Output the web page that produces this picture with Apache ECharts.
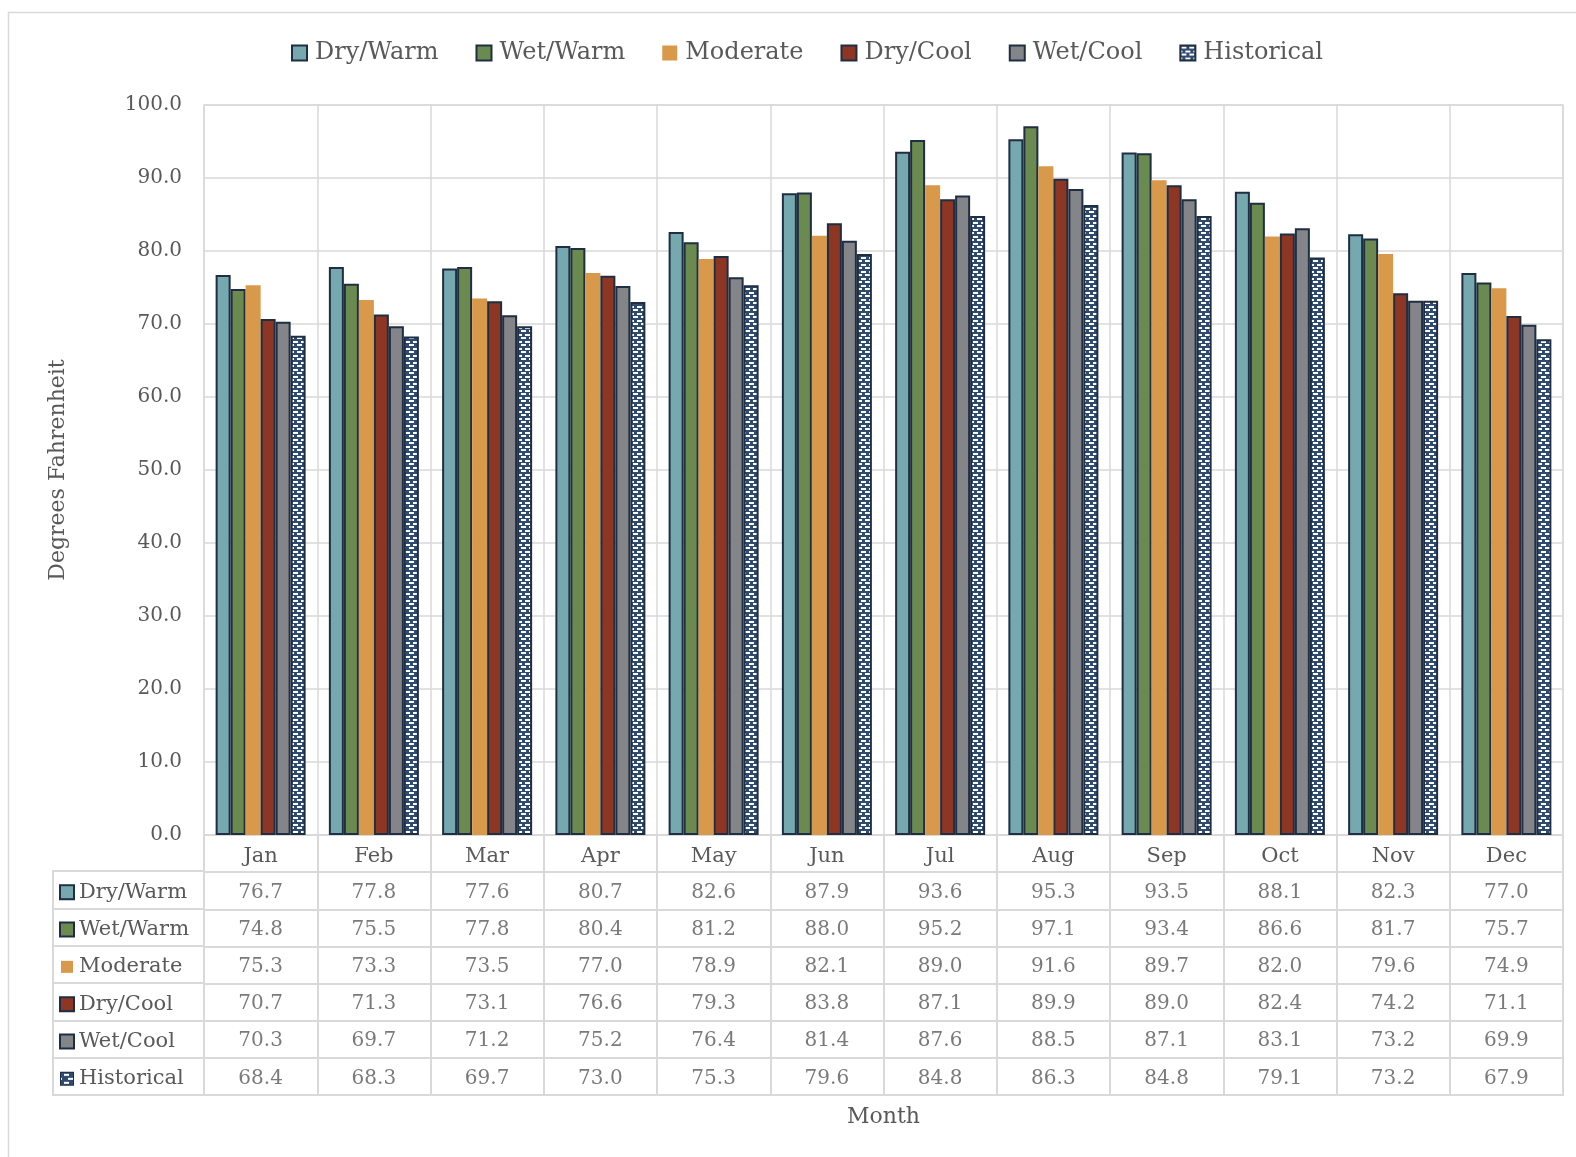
<!DOCTYPE html>
<html>
<head>
<meta charset="utf-8">
<title>Monthly Temperature by Scenario</title>
<script src="https://cdn.jsdelivr.net/npm/echarts@6/dist/echarts.min.js"></script>
<style>
  html, body { margin: 0; padding: 0; background: #ffffff; }
  #chart { width: 1576px; height: 1157px; }
</style>
</head>
<body>
<div id="chart"></div>
<script>
// Monthly temperature (°F) under five climate scenarios plus the historical record
const months = ['Jan', 'Feb', 'Mar', 'Apr', 'May', 'Jun', 'Jul', 'Aug', 'Sep', 'Oct', 'Nov', 'Dec'];
const seriesNames = ['Dry/Warm', 'Wet/Warm', 'Moderate', 'Dry/Cool', 'Wet/Cool', 'Historical'];

const dryWarm    = [76.7, 77.8, 77.6, 80.7, 82.6, 87.9, 93.6, 95.3, 93.5, 88.1, 82.3, 77.0];
const wetWarm    = [74.8, 75.5, 77.8, 80.4, 81.2, 88.0, 95.2, 97.1, 93.4, 86.6, 81.7, 75.7];
const moderate   = [75.3, 73.3, 73.5, 77.0, 78.9, 82.1, 89.0, 91.6, 89.7, 82.0, 79.6, 74.9];
const dryCool    = [70.7, 71.3, 73.1, 76.6, 79.3, 83.8, 87.1, 89.9, 89.0, 82.4, 74.2, 71.1];
const wetCool    = [70.3, 69.7, 71.2, 75.2, 76.4, 81.4, 87.6, 88.5, 87.1, 83.1, 73.2, 69.9];
const historical = [68.4, 68.3, 69.7, 73.0, 75.3, 79.6, 84.8, 86.3, 84.8, 79.1, 73.2, 67.9];

const yTicks = { min: 0, max: 100, interval: 10 };

const seriesValues = [dryWarm, wetWarm, moderate, dryCool, wetCool, historical];

const FONT = 'DejaVu Serif';
const TEXT = '#595959';
const GRIDLINE = '#d9d9d9';
const EDGE = '#1f2e42';
const NAVY = '#2f4b70';
const fills = ['#75a9af', '#6a8a4f', '#d9994a', '#8c3623', '#838589', NAVY];

// navy tile with staggered white dashes for the historical bars
function dashTile(w, h, dashes) {
  const c = document.createElement('canvas');
  c.width = w; c.height = h;
  const g = c.getContext('2d');
  g.fillStyle = NAVY;
  g.fillRect(0, 0, w, h);
  g.fillStyle = '#ffffff';
  dashes.forEach(d => g.fillRect(d[0], d[1], d[2], d[3]));
  return c;
}
const barTile = dashTile(8, 7, [[1, 1, 5, 2], [5, 5, 3, 2], [0, 5, 2, 2]]);
const iconTile = dashTile(12, 12, [[3, 1, 5, 2], [7, 5, 5, 2], [0, 5, 1, 2], [3, 9, 5, 2]]);

function fillFor(i) {
  return i === 5 ? { image: barTile, repeat: 'repeat' } : fills[i];
}

const barSeries = seriesNames.map((name, i) => ({
  name: name,
  type: 'bar',
  xAxisIndex: 0,
  yAxisIndex: 0,
  barWidth: 15,
  barGap: '0%',
  data: seriesValues[i],
  itemStyle: {
    color: fillFor(i),
    borderColor: i === 2 ? '#e3a85c' : EDGE,
    borderWidth: i === 2 ? 0 : 2
  }
}));

// data table values, one cell per series and month
const cellData = [];
seriesValues.forEach((vals, i) => {
  vals.forEach((v, j) => cellData.push([j, i + 1, v]));
});

const tableRows = [''].concat(seriesNames);

const rich = {
  t: { fontFamily: FONT, fontSize: 21, color: TEXT, padding: [0, 0, 0, 6] }
};
seriesNames.forEach((n, i) => {
  rich['i' + i] = {
    width: 12, height: 12,
    backgroundColor: i === 5 ? { image: iconTile } : fills[i],
    borderColor: i === 2 ? fills[2] : EDGE,
    borderWidth: i === 2 ? 0 : 2
  };
});

const chart = echarts.init(document.getElementById('chart'), null, { renderer: 'canvas' });

chart.setOption({
  backgroundColor: '#ffffff',
  animation: false,
  textStyle: { fontFamily: FONT, color: TEXT },
  graphic: [{
    type: 'rect',
    left: 6, top: 10,
    shape: { width: 1700, height: 1300 },
    style: { fill: 'none', stroke: GRIDLINE, lineWidth: 1.5 },
    silent: true
  }],
  legend: {
    data: seriesNames,
    left: 291,
    top: 41,
    padding: 0,
    itemWidth: 15,
    itemHeight: 15,
    itemGap: 37,
    icon: 'rect',
    textStyle: { fontFamily: FONT, fontSize: 24, color: TEXT, padding: [0, 0, 0, 3] }
  },
  grid: [
    { left: 204, right: 13, top: 105, bottom: 322, show: true, borderColor: GRIDLINE, borderWidth: 1.5 },
    { left: 204, right: 13, top: 835, bottom: 62, show: true, borderColor: GRIDLINE, borderWidth: 2 },
    { left: 53, width: 151, top: 871, bottom: 62, show: true, borderColor: GRIDLINE, borderWidth: 2 }
  ],
  xAxis: [
    {
      type: 'category', gridIndex: 0, data: months,
      axisLine: { show: true, lineStyle: { color: GRIDLINE, width: 1.5 } },
      axisTick: { show: false },
      axisLabel: { fontFamily: FONT, fontSize: 21, color: TEXT, margin: 11, interval: 0 },
      splitLine: { show: true, interval: 0, lineStyle: { color: GRIDLINE, width: 1.5 } }
    },
    {
      type: 'category', gridIndex: 1, data: months,
      axisLine: { show: false }, axisTick: { show: false }, axisLabel: { show: false },
      splitLine: { show: true, interval: 0, lineStyle: { color: GRIDLINE, width: 2 } },
      name: 'Month', nameLocation: 'middle', nameGap: 11,
      nameTextStyle: { fontFamily: FONT, fontSize: 22, color: TEXT }
    },
    {
      type: 'category', gridIndex: 2, data: [''],
      axisLine: { show: false }, axisTick: { show: false }, axisLabel: { show: false },
      splitLine: { show: false }
    }
  ],
  yAxis: [
    {
      type: 'value', gridIndex: 0,
      min: yTicks.min, max: yTicks.max, interval: yTicks.interval,
      axisLine: { show: false }, axisTick: { show: false },
      axisLabel: { fontFamily: FONT, fontSize: 20, color: TEXT, margin: 22, formatter: v => v.toFixed(1) },
      splitLine: { show: true, lineStyle: { color: GRIDLINE, width: 1.5 } },
      name: 'Degrees Fahrenheit', nameLocation: 'middle', nameGap: 135,
      nameTextStyle: { fontFamily: FONT, fontSize: 22, color: TEXT }
    },
    {
      type: 'category', gridIndex: 1, data: tableRows, inverse: true,
      axisLine: { show: false }, axisTick: { show: false }, axisLabel: { show: false },
      splitLine: { show: true, interval: 0, lineStyle: { color: GRIDLINE, width: 2 } }
    },
    {
      type: 'category', gridIndex: 2, data: seriesNames, inverse: true,
      axisLine: { show: false }, axisTick: { show: false },
      axisLabel: {
        inside: true, margin: 8, interval: 0, padding: [5, 0, 0, 0],
        formatter: (value, idx) => '{i' + idx + '|}{t|' + value + '}',
        rich: rich
      },
      splitLine: { show: true, interval: 0, lineStyle: { color: GRIDLINE, width: 2 } }
    }
  ],
  series: barSeries.concat([{
    name: 'table',
    type: 'scatter',
    xAxisIndex: 1,
    yAxisIndex: 1,
    symbolSize: 1,
    itemStyle: { color: 'rgba(0,0,0,0)' },
    silent: true,
    data: cellData,
    label: {
      show: true, position: 'inside', offset: [0, 2],
      fontFamily: FONT, fontSize: 20, color: TEXT,
      formatter: p => p.value[2].toFixed(1)
    }
  }])
});
</script>
</body>
</html>
